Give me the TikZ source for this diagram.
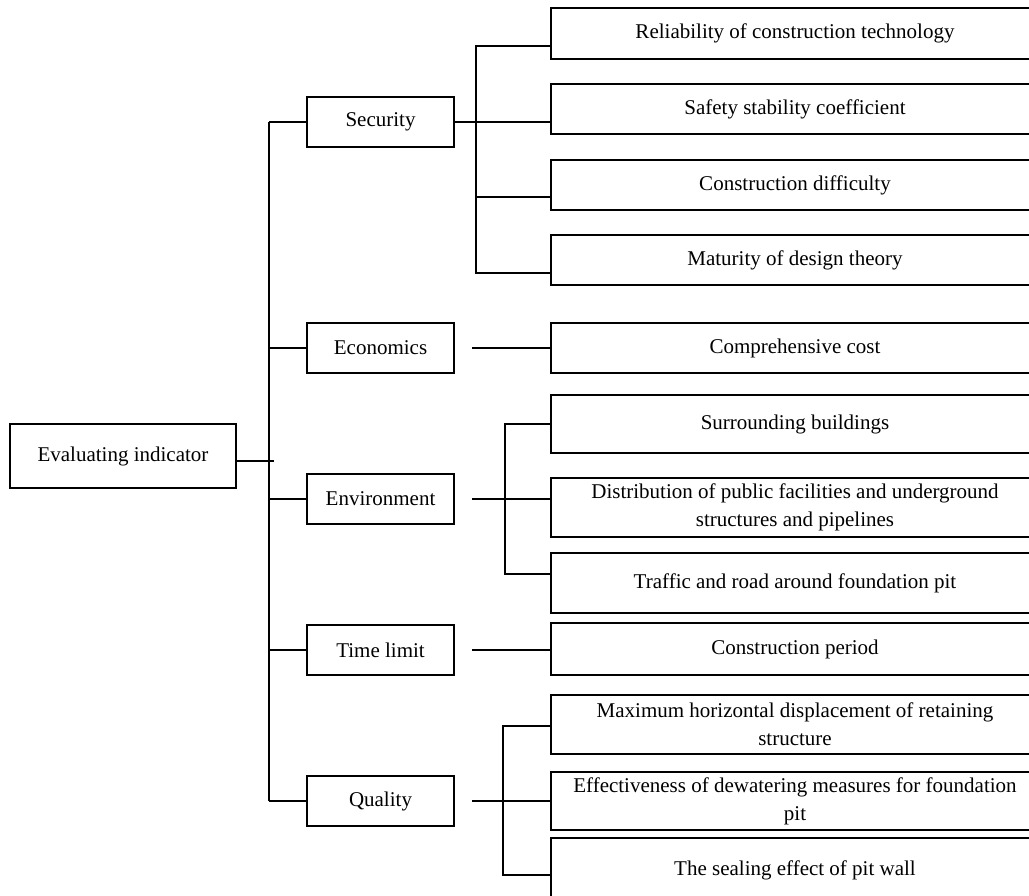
\documentclass[tikz,border=0pt]{standalone}
\usepackage{fontspec}
\setmainfont{Liberation Serif}
\begin{document}
\begin{tikzpicture}[x=1pt,y=-1pt,
  box/.style={draw, line width=1.5pt, inner sep=0pt, align=center, font=\fontsize{21}{28}\selectfont},
  lvone/.style={box, minimum width=147pt, minimum height=50pt},
  leaf/.style={box, minimum width=488pt},
  conn/.style={line width=1.5pt}]
\path[use as bounding box, clip] (0,0) rectangle (1029,896);
% root
\node[box, minimum width=226pt, minimum height=64pt] (root) at (123,456) {Evaluating indicator};
% level one
\node[lvone] (sec) at (380.5,122) {Security};
\node[lvone] (eco) at (380.5,348) {Economics};
\node[lvone] (env) at (380.5,499) {Environment};
\node[lvone] (tim) at (380.5,650) {Time limit};
\node[lvone] (qua) at (380.5,801) {Quality};
% leaves
\node[leaf, minimum height=51pt] (r1) at (795,33.5) {Reliability of construction technology};
\node[leaf, minimum height=50pt] (r2) at (795,109) {Safety stability coefficient};
\node[leaf, minimum height=50pt] (r3) at (795,185) {Construction difficulty};
\node[leaf, minimum height=50pt] (r4) at (795,260) {Maturity of design theory};
\node[leaf, minimum height=50pt] (c1) at (795,348) {Comprehensive cost};
\node[leaf, minimum height=58pt] (e1) at (795,424) {Surrounding buildings};
\node[leaf, minimum height=59pt] (e2) at (795,507.5) {Distribution of public facilities and underground\\structures and pipelines};
\node[leaf, minimum height=60pt] (e3) at (795,583) {Traffic and road around foundation pit};
\node[leaf, minimum height=52pt] (t1) at (795,649) {Construction period};
\node[leaf, minimum height=59pt] (q1) at (795,724.5) {Maximum horizontal displacement of retaining\\structure};
\node[leaf, minimum height=58pt] (q2) at (795,801) {Effectiveness of dewatering measures for foundation\\pit};
\node[leaf, minimum height=64pt] (q3) at (795,870) {The sealing effect of pit wall};
% main trunk
\coordinate (mtop) at (269,122);
\coordinate (mbot) at (269,801);
\draw[conn] ([yshift=-5pt]root.east) -- ++(37,0);
\draw[conn] (mtop) -- (mbot);
\draw[conn] (mtop) -- (sec.west);
\draw[conn] (eco.west -| mtop) -- (eco.west);
\draw[conn] (env.west -| mtop) -- (env.west);
\draw[conn] (tim.west -| mtop) -- (tim.west);
\draw[conn] (mbot) -- (qua.west);
% security branch
\coordinate (sv1) at (476,46);
\coordinate (sv3) at (476,197);
\coordinate (sv4) at (476,273);
\draw[conn] (sec.east) -- (sec.east -| r2.west);
\draw[conn] (sv1 -| r1.west) -- (sv1) -- (sv4) -- (sv4 -| r4.west);
\draw[conn] (sv3) -- (sv3 -| r3.west);
% economics
\coordinate (ec) at (472,348);
\draw[conn] (ec) -- (ec -| c1.west);
% environment
\coordinate (en) at (472,499);
\coordinate (ev1) at (505,424);
\coordinate (ev3) at (505,574);
\draw[conn] (en) -- (en -| e2.west);
\draw[conn] (ev1 -| e1.west) -- (ev1) -- (ev3) -- (ev3 -| e3.west);
% time limit
\coordinate (tl) at (472,650);
\draw[conn] (tl) -- (tl -| t1.west);
% quality
\coordinate (ql) at (472,801);
\coordinate (qv1) at (503,726);
\coordinate (qv3) at (503,875);
\draw[conn] (ql) -- (ql -| q2.west);
\draw[conn] (qv1 -| q1.west) -- (qv1) -- (qv3) -- (qv3 -| q3.west);
\end{tikzpicture}
\end{document}
